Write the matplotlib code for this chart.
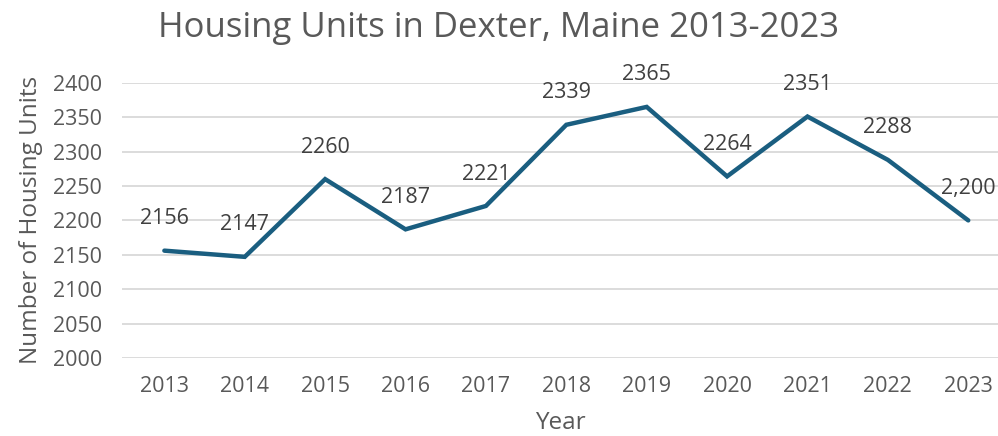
import matplotlib.pyplot as plt

years = ["2013", "2014", "2015", "2016", "2017", "2018", "2019", "2020", "2021", "2022", "2023"]
units = [2156, 2147, 2260, 2187, 2221, 2339, 2365, 2264, 2351, 2288, 2200]
labels = ["2156", "2147", "2260", "2187", "2221", "2339", "2365", "2264", "2351", "2288", "2,200"]
yticks = [2000, 2050, 2100, 2150, 2200, 2250, 2300, 2350, 2400]

plt.rcParams['font.family'] = ['Open Sans', 'DejaVu Sans']
grey = '#595959'
line_col = '#1a5e80'

fig = plt.figure(figsize=(9.98, 4.36), dpi=100)
ax = fig.add_axes([0.122, 0.179, 0.878, 0.631])

x = list(range(len(years)))
ax.plot(x, units, color=line_col, lw=3.2, solid_capstyle='round', solid_joinstyle='miter', zorder=3)

for i, (v, t) in enumerate(zip(units, labels)):
    ax.annotate(t, (i, v), xytext=(0, 23), textcoords='offset points',
                ha='center', va='center', fontsize=15.5, color='#404040',
                annotation_clip=False)

ax.set_xlim(-0.53, 10.37)
ax.set_ylim(2000, 2400)
ax.set_xticks(x)
ax.set_xticklabels(years)
ax.set_yticks(yticks)
ax.grid(axis='y', color='#d9d9d9', lw=1.3)
ax.set_axisbelow(True)
for s in ax.spines.values():
    s.set_visible(False)
ax.tick_params(axis='both', length=0, labelsize=15.5, labelcolor=grey)
ax.tick_params(axis='x', pad=13)
ax.tick_params(axis='y', pad=14)

ax.set_xlabel("Year", fontsize=17.5, color=grey, labelpad=10)
ax.set_ylabel("Number of Housing Units", fontsize=17.5, color=grey, labelpad=7)
fig.suptitle("Housing Units in Dexter, Maine 2013-2023", fontsize=25, color=grey, y=0.975)

fig.savefig("out.png", dpi=100)
